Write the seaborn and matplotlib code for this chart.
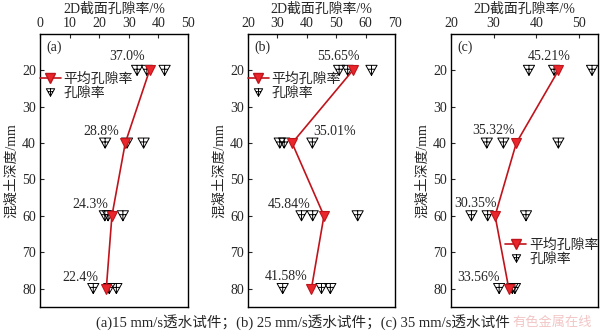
import numpy as np
import pandas as pd
import matplotlib
matplotlib.use("Agg")
import matplotlib.pyplot as plt
from matplotlib.path import Path
from matplotlib.lines import Line2D
import seaborn as sns

# ---------------- data ----------------
depths = [20, 40, 60, 80]

mean_a = [37.0, 28.8, 24.3, 22.4]
mean_b = [55.65, 35.01, 45.84, 41.58]
mean_c = [45.21, 35.32, 30.35, 33.56]

mean_text_a = ["37.0%", "28.8%", "24.3%", "22.4%"]
mean_text_b = ["55.65%", "35.01%", "45.84%", "41.58%"]
mean_text_c = ["45.21%", "35.32%", "30.35%", "33.56%"]

pt_depth = [20, 20, 20, 40, 40, 40, 60, 60, 60, 80, 80, 80]
pt_a = [32.8, 36.1, 42.1, 22.0, 29.4, 35.0, 21.9, 23.0, 28.0, 18.0, 23.4, 25.8]
pt_b = [51.0, 53.9, 62.0, 30.8, 32.3, 41.9, 38.2, 42.0, 57.3, 31.8, 45.0, 48.0]
pt_c = [38.3, 44.2, 53.1, 28.4, 32.3, 45.2, 24.8, 28.6, 37.6, 31.3, 34.4, 35.0]

panel_labels = ["(a)", "(b)", "(c)"]
xlims = [(0, 50), (20, 70), (20, 54.5)]
xticks = [[0, 10, 20, 30, 40, 50], [20, 30, 40, 50, 60, 70], [20, 30, 40, 50]]
yticks = [20, 30, 40, 50, 60, 70, 80]

legend_mean = "平均孔隙率"
legend_pts = "孔隙率"
xlabel = "2D截面孔隙率/%"
ylabel = "混凝土深度/mm"
caption = "(a)15 mm/s透水试件；(b) 25 mm/s透水试件；(c) 35 mm/s透水试件"
watermark = "有色金属在线"

# label offsets (pixels) for the percentage annotations
offs_a = [(-22, 14), (-24, 12), (-22, 11), (-26, 11)]
offs_b = [(-14, 14), (42, 12), (-35, 11), (-25, 12)]
offs_c = [(-9, 14), (-23, 13), (-20, 12), (-30, 11)]

# ---------------- style ----------------
sns.set_style("ticks")
FONT = ["Liberation Serif", "Noto Sans CJK SC", "DejaVu Sans"]
plt.rcParams["font.family"] = FONT
plt.rcParams["font.size"] = 10
plt.rcParams["axes.linewidth"] = 1.0

LINE_RED = "#c0141c"
FILL_RED = "#e8262b"

# custom symbol: open down triangle with a cross
tri_plus = Path(
    [(-1, 0.9), (1, 0.9), (0, -0.9), (-1, 0.9),
     (0, 0.9), (0, -0.9),
     (-0.55, 0.2), (0.55, 0.2)],
    [Path.MOVETO, Path.LINETO, Path.LINETO, Path.CLOSEPOLY,
     Path.MOVETO, Path.LINETO,
     Path.MOVETO, Path.LINETO],
)

fig = plt.figure(figsize=(6.0, 3.32), dpi=100)
W, H = 600.0, 332.0
lefts = [40, 248, 451]
widths = [148, 147, 147]
bottom_px, top_px = 306.7, 34.0

means = [mean_a, mean_b, mean_c]
texts = [mean_text_a, mean_text_b, mean_text_c]
pts = [pt_a, pt_b, pt_c]
offs = [offs_a, offs_b, offs_c]

for i in range(3):
    ax = fig.add_axes([lefts[i] / W, (H - bottom_px) / H, widths[i] / W,
                       (bottom_px - top_px) / H])
    dfp = pd.DataFrame({"x": pts[i], "y": pt_depth})
    sns.scatterplot(data=dfp, x="x", y="y", ax=ax, marker=tri_plus, s=65,
                    color="none", edgecolor="black", linewidth=0.7, zorder=2)
    dfm = pd.DataFrame({"x": means[i], "y": depths})
    sns.lineplot(data=dfm, x="x", y="y", ax=ax, sort=False, orient="y",
                 color=LINE_RED, linewidth=1.2, marker="v", markersize=7.5,
                 markerfacecolor=FILL_RED, markeredgecolor=LINE_RED,
                 markeredgewidth=0.8, zorder=3)
    for xv, yv, t, o in zip(means[i], depths, texts[i], offs[i]):
        ax.annotate(t, (xv, yv), xytext=o, textcoords="offset pixels",
                    ha="center", va="center", fontsize=10)

    ax.set_xlim(*xlims[i])
    ax.set_ylim(85, 10)
    ax.set_xticks(xticks[i])
    ax.set_yticks(yticks)
    ax.xaxis.tick_top()
    ax.xaxis.set_label_position("top")
    ax.set_xlabel(xlabel, fontsize=10, labelpad=3)
    ax.set_ylabel(ylabel, fontsize=10, labelpad=3)
    ax.tick_params(axis="both", direction="in", length=3, width=0.8,
                   labelsize=10, pad=3)
    for s in ax.spines.values():
        s.set_visible(True)
        s.set_color("black")
    ax.text(0.04, 0.95, panel_labels[i], transform=ax.transAxes,
            ha="left", va="center", fontsize=10)

    handles = [
        Line2D([], [], color=LINE_RED, linewidth=1.2, marker="v",
               markersize=7, markerfacecolor=FILL_RED,
               markeredgecolor=LINE_RED),
        Line2D([], [], linestyle="none", marker=tri_plus, markersize=6,
               markerfacecolor="none", markeredgecolor="black",
               markeredgewidth=0.7),
    ]
    if i < 2:
        anchor = (0.0, 0.86)
    else:
        anchor = (0.37, 0.25)
    ax.legend(handles, [legend_mean, legend_pts], loc="upper left",
              bbox_to_anchor=anchor, frameon=False, handlelength=1.5,
              handletextpad=0.2, labelspacing=0.1, borderaxespad=0,
              borderpad=0, fontsize=10)

fig.text(303 / W, 1 - 322 / H, caption, ha="center", va="center",
         fontsize=10.5)
fig.text(552 / W, 1 - 323 / H, watermark, ha="center", va="center",
         fontsize=9.5, color="#f2c6c6")

fig.savefig("out.png", dpi=100)
